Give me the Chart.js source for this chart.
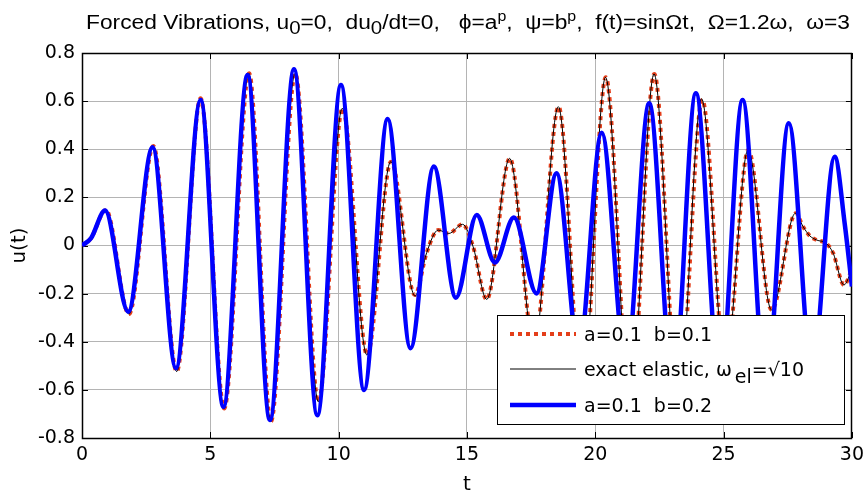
<!DOCTYPE html>
<html>
<head>
<meta charset="utf-8">
<script src="https://cdn.jsdelivr.net/npm/chart.js@4.4.1/dist/chart.umd.min.js"></script>
<style>
html,body{margin:0;padding:0;background:#fff;}
#wrap{position:relative;width:866px;height:495px;}
</style>
</head>
<body>
<div id="wrap"><canvas id="c" width="866" height="495"></canvas></div>
<script>
// ---- data ----
const xTickValues = [0, 5, 10, 15, 20, 25, 30];
const yTickValues = [-0.8, -0.6, -0.4, -0.2, 0, 0.2, 0.4, 0.6, 0.8];

// a=0.1 b=0.1 (red dotted)
const tRed = [0, 0.35, 0.93, 1.83, 2.78, 3.69, 4.62, 5.54, 6.51, 7.36, 8.31, 9.21, 10.15, 11.11, 12.04, 12.97, 13.43, 13.88, 14.29, 14.83, 15.24, 15.77, 16.67, 17.62, 18.57, 19.49, 20.41, 21.36, 22.30, 23.24, 24.17, 25.07, 25.96, 26.87, 27.81, 28.10, 28.36, 28.62, 29.00, 29.27, 29.69, 30.0];
const uRed = [0, 0.03, 0.148, -0.285, 0.413, -0.524, 0.612, -0.677, 0.716, -0.732, 0.715, -0.65, 0.57, -0.455, 0.348, -0.206, -0.03, 0.064, 0.05, 0.088, -0.005, -0.224, 0.362, -0.42, 0.577, -0.63, 0.699, -0.68, 0.713, -0.67, 0.605, -0.50, 0.397, -0.268, 0.134, 0.078, 0.04, 0.023, 0.009, -0.032, -0.164, -0.10];

// exact elastic (thin black)
const tExact = [0, 0.35, 0.93, 1.83, 2.78, 3.69, 4.62, 5.54, 6.50, 7.36, 8.30, 9.21, 10.14, 11.10, 12.03, 12.98, 13.43, 13.88, 14.29, 14.83, 15.24, 15.77, 16.66, 17.62, 18.56, 19.49, 20.40, 21.36, 22.29, 23.24, 24.14, 25.07, 25.95, 26.87, 27.80, 28.10, 28.36, 28.62, 29.00, 29.27, 29.69, 30.0];
const uExact = [0, 0.03, 0.148, -0.285, 0.413, -0.524, 0.612, -0.677, 0.716, -0.732, 0.715, -0.65, 0.57, -0.455, 0.348, -0.21, -0.03, 0.064, 0.05, 0.088, -0.005, -0.224, 0.362, -0.42, 0.577, -0.63, 0.699, -0.68, 0.713, -0.67, 0.61, -0.50, 0.397, -0.268, 0.134, 0.078, 0.04, 0.023, 0.009, -0.032, -0.164, -0.10];

// a=0.1 b=0.2 (thick blue)
const tBlue = [0, 0.35, 0.90, 1.80, 2.75, 3.66, 4.62, 5.51, 6.45, 7.32, 8.26, 9.17, 10.09, 10.99, 11.91, 12.80, 13.71, 14.57, 15.38, 16.09, 16.83, 17.71, 18.49, 19.36, 20.25, 21.20, 22.10, 23.04, 23.92, 24.86, 25.74, 26.65, 27.54, 28.45, 29.33, 29.72, 30.0];
const uBlue = [0, 0.03, 0.145, -0.275, 0.408, -0.51, 0.605, -0.67, 0.709, -0.725, 0.732, -0.705, 0.667, -0.60, 0.526, -0.427, 0.328, -0.217, 0.127, -0.071, 0.116, -0.199, 0.30, -0.44, 0.469, -0.50, 0.591, -0.60, 0.633, -0.58, 0.605, -0.60, 0.508, -0.52, 0.369, 0.09, -0.17];

const seriesLabels = ['a=0.1  b=0.1', 'exact elastic, \u03C9', 'a=0.1  b=0.2'];
const xAxisLabel = 't';
const yAxisLabel = 'u(t)';
const titleParts = [
  ['Forced Vibrations, u', ''], ['0', 'sub'], ['=0,  du', ''], ['0', 'sub'],
  ['/dt=0,   \u03D5=a', ''], ['p', 'sup'], [',  \u03C8=b', ''], ['p', 'sup'],
  [',  f(t)=sin\u03A9t,  \u03A9=1.2\u03C9,  \u03C9=3', '']
];

const pts = (ts, us) => ts.map((t, i) => ({x: t, y: us[i]}));

const FONT = "'DejaVu Sans', 'Liberation Sans', Arial, sans-serif";
const TITLE_FONT = "'Liberation Sans Narrow', 'Liberation Sans', Arial, sans-serif";

const framePlugin = {
  id: 'frame',
  beforeDatasetsDraw(chart) {
    const {ctx, chartArea: a, scales: {x, y}} = chart;
    ctx.save();
    ctx.strokeStyle = '#000';
    ctx.lineWidth = 1;
    ctx.beginPath();
    xTickValues.forEach(v => {
      const px = Math.round(x.getPixelForValue(v)) + 0.5;
      ctx.moveTo(px, a.bottom); ctx.lineTo(px, a.bottom - 6);
      ctx.moveTo(px, a.top); ctx.lineTo(px, a.top + 6);
    });
    yTickValues.forEach(v => {
      const py = Math.round(y.getPixelForValue(v)) + 0.5;
      ctx.moveTo(a.left, py); ctx.lineTo(a.left + 6, py);
      ctx.moveTo(a.right, py); ctx.lineTo(a.right - 6, py);
    });
    ctx.stroke();
    ctx.lineWidth = 1.5;
    ctx.strokeRect(Math.round(a.left) + 0.5, Math.round(a.top) + 0.5,
                   Math.round(a.right - a.left) - 1, Math.round(a.bottom - a.top));
    ctx.restore();
  }
};

const legendPlugin = {
  id: 'boxLegend',
  afterDatasetsDraw(chart) {
    const {ctx} = chart;
    const bx = 497, by = 315, bw = 347, bh = 109;
    ctx.save();
    ctx.fillStyle = '#fff';
    ctx.fillRect(bx, by, bw, bh);
    ctx.strokeStyle = '#000';
    ctx.lineWidth = 1;
    ctx.strokeRect(bx + 0.5, by + 0.5, bw, bh);
    const rows = [334, 369, 405];
    const ds = chart.data.datasets;
    [0, 1, 2].forEach((k, i) => {
      const d = ds[k];
      const yy = rows[i];
      ctx.save();
      ctx.strokeStyle = d.borderColor;
      ctx.lineWidth = d.borderWidth;
      ctx.setLineDash(d.borderDash || []);
      ctx.lineCap = 'butt';
      ctx.beginPath();
      ctx.moveTo(510, yy); ctx.lineTo(576, yy);
      ctx.stroke();
      ctx.restore();
      ctx.fillStyle = '#000';
      ctx.textBaseline = 'middle';
      ctx.textAlign = 'left';
      ctx.font = '19px ' + FONT;
      let tx = 584;
      ctx.fillText(seriesLabels[k], tx, yy + 2);
      if (k === 1) {
        tx += ctx.measureText(seriesLabels[k]).width + 3;
        ctx.fillText('el', tx, yy + 9);
        tx += ctx.measureText('el').width;
        ctx.fillText('=\u221A10', tx, yy + 2);
      }
    });
    ctx.restore();
  },
  afterDraw(chart) {
    const {ctx} = chart;
    ctx.save();
    ctx.fillStyle = '#000';
    ctx.textBaseline = 'middle';
    ctx.textAlign = 'left';
    const size = 20;
    const fontFor = m => (m === '' ? size : (m === 'sub' ? 18 : 14)) + 'px ' + TITLE_FONT;
    let total = 0;
    titleParts.forEach(([s, m]) => { ctx.font = fontFor(m); total += ctx.measureText(s).width; });
    const target = 764;
    const sx = target / total;
    const cx = 468, cy = 23;
    ctx.translate(cx - target / 2, cy);
    ctx.scale(sx, 1);
    let xx = 0;
    titleParts.forEach(([s, m]) => {
      ctx.font = fontFor(m);
      const dy = m === 'sub' ? 6 : (m === 'sup' ? -6 : 0);
      ctx.fillText(s, xx, dy);
      xx += ctx.measureText(s).width;
    });
    ctx.restore();
  }
};

const common = {pointRadius: 0, pointHoverRadius: 0, fill: false, cubicInterpolationMode: 'monotone', borderCapStyle: 'butt', borderJoinStyle: 'round'};

new Chart(document.getElementById('c'), {
  type: 'line',
  data: {
    datasets: [
      Object.assign({label: seriesLabels[0], data: pts(tRed, uRed), borderColor: 'rgb(228,62,26)', borderWidth: 4, borderDash: [4, 4], order: 2}, common),
      Object.assign({label: seriesLabels[1], data: pts(tExact, uExact), borderColor: '#000', borderWidth: 1, order: 1}, common),
      Object.assign({label: seriesLabels[2], data: pts(tBlue, uBlue), borderColor: '#0000ff', borderWidth: 4.5, order: 0}, common)
    ]
  },
  options: {
    responsive: false,
    animation: false,
    devicePixelRatio: 1,
    layout: {padding: {top: 53, right: 14, left: 0, bottom: 0}},
    plugins: {legend: {display: false}, title: {display: false}, tooltip: {enabled: false}},
    scales: {
      x: {
        type: 'linear', min: 0, max: 30,
        afterBuildTicks: s => { s.ticks = xTickValues.map(v => ({value: v})); },
        afterFit: s => { s.height = 57; },
        ticks: {color: '#000', font: {family: FONT, size: 19, lineHeight: 1.6}, padding: 2, maxRotation: 0,
                callback: v => String(v)},
        grid: {color: '#b4b4b4', lineWidth: 1, drawTicks: false},
        border: {display: false},
        title: {display: true, text: xAxisLabel, color: '#000', font: {family: FONT, size: 20, lineHeight: 1.0}, padding: {top: 0, bottom: 0}}
      },
      y: {
        type: 'linear', min: -0.8, max: 0.8,
        afterBuildTicks: s => { s.ticks = yTickValues.map(v => ({value: v})); },
        afterFit: s => { s.width = 82; },
        ticks: {color: '#000', font: {family: FONT, size: 19}, padding: 7,
                callback: v => String(Math.round(v * 10) / 10)},
        grid: {color: '#b4b4b4', lineWidth: 1, drawTicks: false},
        border: {display: false},
        title: {display: true, text: yAxisLabel, color: '#000', font: {family: FONT, size: 20, lineHeight: 1.2}, padding: {top: 8, bottom: 0}}
      }
    }
  },
  plugins: [framePlugin, legendPlugin]
});
</script>
</body>
</html>
